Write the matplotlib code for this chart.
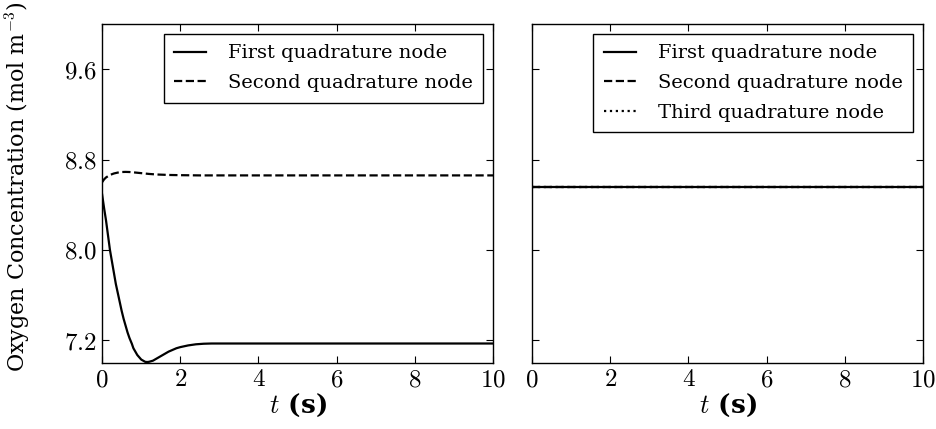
import matplotlib
matplotlib.use("Agg")
import matplotlib.pyplot as plt
from matplotlib.ticker import FuncFormatter

# left panel: two quadrature nodes
t_left = [0.0, 0.05, 0.1, 0.15, 0.2, 0.25, 0.3, 0.35, 0.4, 0.45, 0.5, 0.55, 0.6,
          0.65, 0.7, 0.76, 0.8, 0.85, 0.9, 0.95, 1.0, 1.05, 1.1, 1.15, 1.2, 1.3,
          1.4, 1.5, 1.6, 1.7, 1.8, 1.9, 2.0, 2.2, 2.4, 2.6, 2.8, 3.0, 10.0]
first_left = [8.49, 8.37, 8.26, 8.13, 8.0, 7.9, 7.8, 7.7, 7.62, 7.54, 7.46, 7.39, 7.33,
              7.27, 7.22, 7.17, 7.13, 7.1, 7.07, 7.05, 7.03, 7.02, 7.01, 7.008, 7.01, 7.02,
              7.04, 7.06, 7.08, 7.1, 7.115, 7.13, 7.14, 7.155, 7.165, 7.17, 7.172, 7.172, 7.172]
t_left2 = [0.0, 0.05, 0.1, 0.2, 0.3, 0.4, 0.5, 0.6, 0.7, 0.8, 1.0, 1.2, 1.4, 1.7,
           2.0, 2.5, 10.0]
second_left = [8.6, 8.625, 8.642, 8.664, 8.677, 8.685, 8.69, 8.691, 8.69, 8.687, 8.68,
               8.673, 8.668, 8.664, 8.662, 8.66, 8.66]

# right panel: three quadrature nodes, all flat
t_right = [0.0, 10.0]
first_right = [8.56, 8.56]
second_right = [8.56, 8.56]
third_right = [8.56, 8.56]

yticks = [7.2, 8.0, 8.8, 9.6]
xticks = [0, 2, 4, 6, 8, 10]

plt.rcParams['font.family'] = 'DejaVu Serif'
plt.rcParams['mathtext.fontset'] = 'cm'
plt.rcParams['xtick.direction'] = 'in'
plt.rcParams['ytick.direction'] = 'in'
plt.rcParams['xtick.top'] = True
plt.rcParams['ytick.right'] = True

fig, (ax1, ax2) = plt.subplots(1, 2, figsize=(9.37, 4.29), dpi=100, sharey=True)
fig.subplots_adjust(left=0.109, right=0.985, bottom=0.154, top=0.944, wspace=0.1)

lw = 1.6
ax1.plot(t_left, first_left, 'k-', lw=lw, label='First quadrature node')
ax1.plot(t_left2, second_left, 'k--', lw=lw, label='Second quadrature node')

ax2.plot(t_right, first_right, 'k-', lw=lw, label='First quadrature node')
ax2.plot(t_right, second_right, 'k--', lw=lw, label='Second quadrature node')
ax2.plot(t_right, third_right, 'k:', lw=lw, label='Third quadrature node')

for ax in (ax1, ax2):
    ax.set_xlim(0, 10)
    ax.set_ylim(7.0, 10.0)
    ax.set_xticks(xticks)
    ax.set_yticks(yticks)
    ax.xaxis.set_major_formatter(FuncFormatter(lambda v, p: '$%d$' % v))
    ax.tick_params(labelsize=18, length=5, width=0.8, pad=4)
    ax.set_xlabel(r'$t$ (s)', fontsize=19, fontweight='bold', labelpad=0)
    for s in ax.spines.values():
        s.set_linewidth(1.0)
    leg = ax.legend(loc='upper right', fontsize=14, fancybox=False, framealpha=1,
                    edgecolor='black', handlelength=1.65, handletextpad=1.1,
                    labelspacing=0.6, borderpad=0.55, borderaxespad=0.5)
    leg.get_frame().set_linewidth(1.0)

ax1.yaxis.set_major_formatter(FuncFormatter(lambda v, p: '$%.1f$' % v))
ax1.set_ylabel(r'Oxygen Concentration (mol m$^{-3}$)', fontsize=16)
ax1.yaxis.set_label_coords(-0.176, 0.52)

plt.savefig('out.png', dpi=100)
